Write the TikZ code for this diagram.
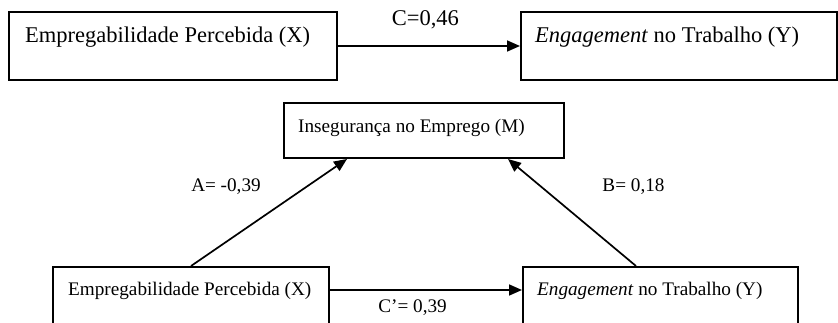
\documentclass[tikz,border=0pt]{standalone}
\usepackage{fontspec}
\setmainfont{Liberation Serif}
\usetikzlibrary{arrows.meta,positioning}

\begin{document}
\begin{tikzpicture}[x=1pt,y=-1pt,
          caixa/.style={draw=black,rectangle,line width=2pt,inner sep=0pt},
          grande/.style={font=\fontsize{22.5}{27}\selectfont,inner sep=0pt},
          pequeno/.style={font=\fontsize{19.2}{23}\selectfont,inner sep=0pt},
          seta/.style={line width=1.7pt,-{Triangle[length=13pt,width=11pt]}}]
          \useasboundingbox (0,0) rectangle (838,322);
          \clip (0,0) rectangle (838,322);
          % efeito total
          \node[caixa,minimum width=328pt,minimum height=68pt](x1) at (173,46){};
          \node[caixa,minimum width=316pt,minimum height=68pt](y1) at (679,46){};
          \node[grande,anchor=base west](x1t) at (25,42){Empregabilidade Percebida (X)};
          \node[grande,anchor=base west](y1t) at (535,42){\textit{Engagement} no Trabalho (Y)};
          \draw[seta](x1)--(y1) node[grande,pos=0.48,above=16pt](c){C=0,46};
          % mediacao
          \node[caixa,minimum width=280pt,minimum height=55pt](m) at (424,130.5){};
          \node[caixa,minimum width=276pt,minimum height=78pt](x2) at (191,306){};
          \node[caixa,minimum width=275pt,minimum height=78pt](y2) at (660.5,306){};
          \node[pequeno,anchor=base west](mt) at (298,132){Insegurança no Emprego (M)};
          \node[pequeno,anchor=base west](x2t) at (68,295){Empregabilidade Percebida (X)};
          \node[pequeno,anchor=base west](y2t) at (537,295){\textit{Engagement} no Trabalho (Y)};
          \draw[seta]([xshift=139pt]x2.north west)--([xshift=64pt]m.south west);
          \draw[seta]([xshift=114pt]y2.north west)--([xshift=-57pt]m.south east);
          \draw[seta]([yshift=-24pt]x2.north east)--([yshift=-24pt]y2.north west)
            node[pequeno,pos=0.43,below=9pt](cl){C’= 0,39};
          \node[pequeno,anchor=base](a) at (226,191){A= -0,39};
          \node[pequeno,anchor=base](b) at (633.5,191){B= 0,18};
        \end{tikzpicture}
\end{document}
